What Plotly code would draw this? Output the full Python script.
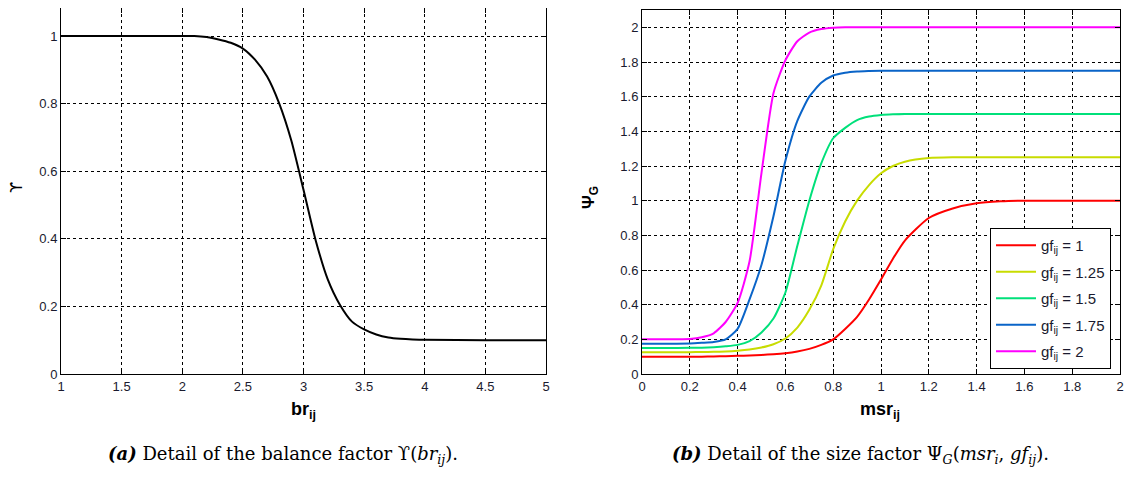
import plotly.graph_objects as go

# ---- Data: (a) balance factor ----
br = [1.0, 1.5, 2.0, 2.1, 2.2, 2.3, 2.4, 2.5, 2.6, 2.7, 2.8, 2.9, 3.0, 3.1, 3.2, 3.3,
      3.4, 3.5, 3.6, 3.7, 3.8, 3.9, 4.0, 4.5, 5.0]
upsilon = [1.0, 1.0, 1.0, 1.0, 0.997, 0.99, 0.98, 0.963, 0.93, 0.88, 0.80, 0.69, 0.545,
           0.396, 0.28, 0.205, 0.155, 0.132, 0.117, 0.108, 0.104, 0.102, 0.101, 0.1, 0.1]

# ---- Data: (b) size factor ----
msr = [0.0, 0.1, 0.2, 0.25, 0.3, 0.35, 0.4, 0.45, 0.5, 0.55, 0.6, 0.65, 0.7, 0.75, 0.8,
       0.85, 0.9, 0.95, 1.0, 1.05, 1.1, 1.2, 1.3, 1.4, 1.5, 1.6, 1.8, 2.0]
psi_gf1 = [0.1, 0.1, 0.1, 0.1, 0.101, 0.103, 0.105, 0.107, 0.11, 0.114, 0.12, 0.13, 0.145,
           0.168, 0.2, 0.26, 0.33, 0.43, 0.545, 0.665, 0.77, 0.9, 0.955, 0.985, 0.996, 1.0, 1.0, 1.0]
psi_gf125 = [0.125, 0.125, 0.126, 0.127, 0.128, 0.13, 0.134, 0.141, 0.153, 0.172, 0.205, 0.268,
             0.37, 0.51, 0.72, 0.88, 1.0, 1.09, 1.158, 1.2, 1.225, 1.246, 1.25, 1.25, 1.25, 1.25, 1.25, 1.25]
psi_gf15 = [0.15, 0.15, 0.151, 0.152, 0.155, 0.16, 0.168, 0.19, 0.24, 0.32, 0.47, 0.74, 1.0,
            1.215, 1.36, 1.42, 1.465, 1.485, 1.494, 1.498, 1.5, 1.5, 1.5, 1.5, 1.5, 1.5, 1.5, 1.5]
psi_gf175 = [0.175, 0.175, 0.176, 0.18, 0.185, 0.2, 0.26, 0.43, 0.63, 0.91, 1.23, 1.46, 1.6,
             1.68, 1.722, 1.738, 1.745, 1.748, 1.75, 1.75, 1.75, 1.75, 1.75, 1.75, 1.75, 1.75, 1.75, 1.75]
psi_gf2 = [0.2, 0.2, 0.202, 0.212, 0.235, 0.3, 0.41, 0.65, 1.16, 1.62, 1.81, 1.92, 1.97,
           1.99, 1.998, 2.0, 2.0, 2.0, 2.0, 2.0, 2.0, 2.0, 2.0, 2.0, 2.0, 2.0, 2.0, 2.0]

series_names = ["gf<sub>ij</sub> = 1", "gf<sub>ij</sub> = 1.25", "gf<sub>ij</sub> = 1.5",
                "gf<sub>ij</sub> = 1.75", "gf<sub>ij</sub> = 2"]
series_values = [psi_gf1, psi_gf125, psi_gf15, psi_gf175, psi_gf2]
series_colors = ["#ff0000", "#c8dc00", "#00e07a", "#0a64c8", "#ff00ff"]

xticks_a = [1, 1.5, 2, 2.5, 3, 3.5, 4, 4.5, 5]
yticks_a = [0, 0.2, 0.4, 0.6, 0.8, 1]
xticks_b = [0, 0.2, 0.4, 0.6, 0.8, 1, 1.2, 1.4, 1.6, 1.8, 2]
yticks_b = [0, 0.2, 0.4, 0.6, 0.8, 1, 1.2, 1.4, 1.6, 1.8, 2]

# page body has an 8px margin; figure sized to fit the 1136x477 window
OFF = 8
W, H = 1136 - 2 * OFF, 477 - 2 * OFF


def px(x):
    return (x - OFF) / W


def py(y):
    return min(1.0, max(0.0, 1 - (y - OFF) / H))


fig = go.Figure()

fig.add_trace(go.Scatter(x=br, y=upsilon, mode="lines",
                         line=dict(color="black", width=2, shape="spline", smoothing=0.6),
                         showlegend=False, xaxis="x", yaxis="y"))

for i, (name, vals, col) in enumerate(zip(series_names, series_values, series_colors)):
    fig.add_trace(go.Scatter(x=msr, y=vals, mode="lines", name=name, legendgroup=f"g{i}",
                             line=dict(color=col, width=2, shape="spline", smoothing=0.6),
                             xaxis="x2", yaxis="y2"))

tickfont = dict(family="Arial, Liberation Sans, sans-serif", size=13, color="#1a1a2e")
common = dict(showline=True, linecolor="black", linewidth=1, mirror="ticks", ticks="inside",
              ticklen=5, tickcolor="black", showgrid=True, gridcolor="black", gridwidth=1,
              griddash="3px,3px", zeroline=False, tickfont=tickfont, fixedrange=True,
              automargin=False)

fig.update_layout(
    width=W, height=H,
    margin=dict(l=0, r=0, t=0, b=0, autoexpand=False),
    paper_bgcolor="white", plot_bgcolor="white",
    xaxis=dict(domain=[px(61), px(546)], range=[1, 5], tickvals=xticks_a,
               ticktext=[f"{v:g}" for v in xticks_a], anchor="y", **common),
    yaxis=dict(domain=[py(374), py(8)], range=[0, 1.083], tickvals=yticks_a,
               ticktext=[f"{v:g}" for v in yticks_a], anchor="x", **common),
    xaxis2=dict(domain=[px(642), px(1120)], range=[0, 2], tickvals=xticks_b,
                ticktext=[f"{v:g}" for v in xticks_b], anchor="y2", **common),
    yaxis2=dict(domain=[py(374), py(10)], range=[0, 2.1], tickvals=yticks_b,
                ticktext=[f"{v:g}" for v in yticks_b], anchor="x2", **common),
    legend=dict(x=px(990), y=py(228), xanchor="left", yanchor="top",
                bgcolor="white", bordercolor="black", borderwidth=1,
                font=dict(family="Arial, Liberation Sans, sans-serif", size=15, color="#1a1a2e"),
                tracegroupgap=4, itemwidth=40),
    showlegend=True,
)

title_font = dict(family="Arial, Liberation Sans, sans-serif", size=18, color="black")
cap_font = dict(family="DejaVu Serif, Liberation Serif, serif", size=18, color="black")
ann = [
    dict(x=px(303), y=py(410), text="<b>br<sub>ij</sub></b>", font=title_font),
    dict(x=px(880), y=py(410), text="<b>msr<sub>ij</sub></b>", font=title_font),
    dict(x=px(17), y=py(188), text="ϒ", textangle=-90,
         font=dict(family="DejaVu Sans, sans-serif", size=16, color="black")),
    dict(x=px(590), y=py(198), text="<b>Ψ<sub>G</sub></b>", textangle=-90, font=dict(title_font, size=17)),
    dict(x=px(283), y=py(455),
         text="<b><i>(a)</i></b> Detail of the balance factor ϒ(<i>br<sub>ij</sub></i>).",
         font=cap_font),
    dict(x=px(860), y=py(455),
         text="<b><i>(b)</i></b> Detail of the size factor Ψ<sub><i>G</i></sub>(<i>msr<sub>i</sub></i>, <i>gf<sub>ij</sub></i>).",
         font=cap_font),
]
for a in ann:
    a.update(xref="paper", yref="paper", showarrow=False, xanchor="center", yanchor="middle")
    fig.add_annotation(**a)

fig.write_html("out.html", config={"displayModeBar": False})
